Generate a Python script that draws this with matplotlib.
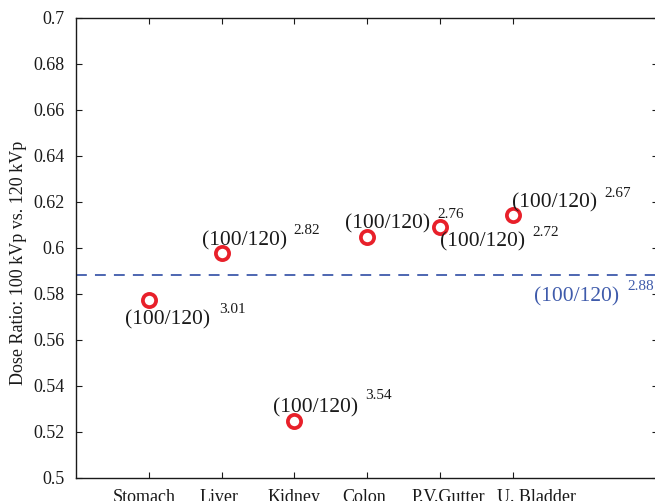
import matplotlib
matplotlib.use("Agg")
import matplotlib.pyplot as plt
from matplotlib.transforms import ScaledTranslation

organs = ["Stomach", "Liver", "Kidney", "Colon", "P.V.Gutter", "U. Bladder"]
ratios = [0.5774, 0.5978, 0.5248, 0.6048, 0.6091, 0.6143]
exponents = ["3.01", "2.82", "3.54", "2.76", "2.72", "2.67"]
mean_ratio = 0.5883
mean_exponent = "2.88"
base_label = "(100/120)"
yticks = [0.5, 0.52, 0.54, 0.56, 0.58, 0.6, 0.62, 0.64, 0.66, 0.68, 0.7]

# label offsets in pixels (main text, superscript)
offsets = [((19, -20), (84, -10)),
           ((23, 12), (85, 23)),
           ((21, 13), (84, 25)),
           ((21, 13), (84, 22)),
           ((43, -15), (106, -5)),
           ((42, 12), (105, 22))]
# horizontal shift of x tick labels (pixels)
xlabel_shift = [-5, -2, 0, -2.5, 9, 24]

plt.rcParams['font.family'] = ['Liberation Serif', 'DejaVu Serif']

W, H = 655, 501
fig = plt.figure(figsize=(W / 100, H / 100), dpi=100)
ax = fig.add_axes([76 / W, 1 - 478 / H, (658 - 76) / W, (478 - 18) / H])

xs = list(range(1, len(organs) + 1))
red = '#e8202a'
blue = '#3f5bab'
ink = '#1a1a1a'

ax.axhline(mean_ratio, color=blue, linestyle=(0, (6, 4.5)), linewidth=1.3, zorder=1)
ax.plot(xs, ratios, linestyle='none', marker='o', markersize=9.5,
        markerfacecolor='white', markeredgecolor=red, markeredgewidth=2.7, zorder=3)

for x, y, e, (mo, so) in zip(xs, ratios, exponents, offsets):
    ax.annotate(base_label, xy=(x, y), xytext=mo, textcoords='offset pixels',
                ha='center', va='center', fontsize=15.5, color=ink)
    ax.annotate(e, xy=(x, y), xytext=so, textcoords='offset pixels',
                ha='center', va='center', fontsize=11, color=ink)

ax.annotate(base_label, xy=(xs[-1], mean_ratio), xytext=(64, -22),
            textcoords='offset pixels', ha='center', va='center',
            fontsize=15.5, color=blue, annotation_clip=False)
ax.annotate(mean_exponent, xy=(xs[-1], mean_ratio), xytext=(128, -12),
            textcoords='offset pixels', ha='center', va='center',
            fontsize=11, color=blue, annotation_clip=False)

ax.set_xlim(0, 8)
ax.set_ylim(0.5, 0.7)
ax.set_xticks(xs)
ax.set_xticklabels(organs, fontsize=13)
ax.set_yticks(yticks)
ax.set_yticklabels([f"{t:g}" for t in yticks], fontsize=13)
ax.tick_params(direction='in', top=True, right=True, length=4, width=0.8,
               colors=ink, pad=8)
ax.tick_params(axis='x', pad=8)
for lbl, dx in zip(ax.get_xticklabels(), xlabel_shift):
    lbl.set_transform(lbl.get_transform() + ScaledTranslation(dx / 100, 0, fig.dpi_scale_trans))

ax.set_ylabel("Dose Ratio: 100 kVp vs. 120 kVp", fontsize=13, color=ink)
ax.yaxis.set_label_coords((27 - 76) / 582, (478 - 263) / 460)
for s in ax.spines.values():
    s.set_linewidth(1.0)
    s.set_color(ink)

fig.savefig("out.png", dpi=100)
